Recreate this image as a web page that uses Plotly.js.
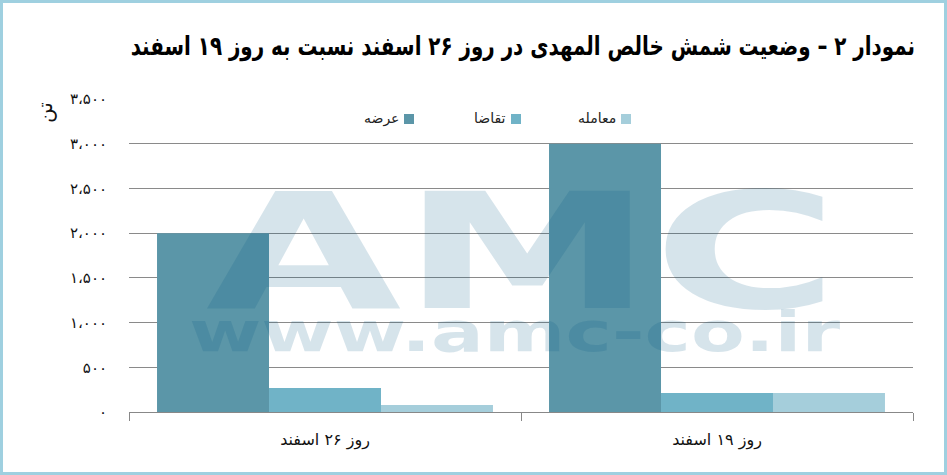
<!DOCTYPE html>
<html>
<head>
<meta charset="utf-8">
<script src="https://cdn.plot.ly/plotly-3.0.1.min.js"></script>
<style>
html,body{margin:0;padding:0;background:#fff;}
#wrap{position:relative;width:947px;height:475px;}
#chart{width:947px;height:475px;}
#frame{position:absolute;left:0;top:0;width:947px;height:475px;box-sizing:border-box;border:3px solid #9fd0e0;pointer-events:none;}
</style>
</head>
<body>
<div id="wrap"><div id="chart"></div><div id="frame"></div></div>
<script>
// ---- data ----
const categories = ['روز ۲۶ اسفند', 'روز ۱۹ اسفند'];
const seriesNames = ['عرضه', 'تقاضا', 'معامله'];
const supplyValues = [2000, 3000];
const demandValues = [268, 212];
const tradeValues = [78, 212];
const yTickVals = [0, 500, 1000, 1500, 2000, 2500, 3000, 3500];
const yTickText = ['۰', '۵۰۰', '۱،۰۰۰', '۱،۵۰۰', '۲،۰۰۰', '۲،۵۰۰', '۳،۰۰۰', '۳،۵۰۰'];
const titleText = 'نمودار ۲ – وضعیت شمش خالص المهدی در روز ۲۶ اسفند نسبت به روز ۱۹ اسفند';
const unitText = 'تن';

// ---- styles ----
const colors = ['#5b96a8', '#70b3c7', '#a5cedb'];
const W = 947, H = 475;
const M = {l: 129, r: 34, t: 99, b: 63};
const pw = W - M.l - M.r, ph = H - M.t - M.b;
const px = x => (x - M.l) / pw;
const py = y => (H - M.b - y) / ph;
const FONT = 'DejaVu Sans, sans-serif';

const seriesValues = [supplyValues, demandValues, tradeValues];
const traces = seriesNames.map((n, i) => ({
  type: 'bar', name: n, x: categories, y: seriesValues[i],
  marker: {color: colors[i], line: {width: 0}},
  hoverinfo: 'skip', showlegend: false
}));

// custom RTL legend (text then square on the right)
const legendItems = [
  {name: seriesNames[0], textRight: 401, sq: 404},
  {name: seriesNames[1], textRight: 508, sq: 511},
  {name: seriesNames[2], textRight: 618, sq: 621}
];
const annotations = [];
const shapes = [];
legendItems.forEach((it, i) => {
  annotations.push({xref: 'paper', yref: 'paper', x: px(it.textRight), y: py(118),
    xanchor: 'right', yanchor: 'middle', showarrow: false, text: it.name,
    font: {family: FONT, size: 14, color: '#222'}});
  shapes.push({type: 'rect', xref: 'paper', yref: 'paper', x0: px(it.sq), x1: px(it.sq + 10),
    y0: py(124), y1: py(114), fillcolor: colors[i], line: {width: 0}});
});
// unit label
annotations.push({xref: 'paper', yref: 'paper', x: px(45), y: py(113), xanchor: 'center', yanchor: 'middle',
  showarrow: false, text: unitText, textangle: -90, font: {family: FONT, size: 20, color: '#111'}});
// watermark
annotations.push({xref: 'paper', yref: 'paper', x: px(522), y: py(253), xanchor: 'center', yanchor: 'middle',
  showarrow: false, text: '<b>AMC</b>', font: {family: FONT, size: 160, color: 'rgba(0,86,130,0.16)'}});
annotations.push({xref: 'paper', yref: 'paper', x: px(515), y: py(331), xanchor: 'center', yanchor: 'middle',
  showarrow: false, text: '<b>www.amc-co.ir</b>', font: {family: FONT, size: 56, color: 'rgba(0,86,130,0.16)'}});

const layout = {
  width: W, height: H,
  margin: M,
  paper_bgcolor: '#fff', plot_bgcolor: 'rgba(0,0,0,0)',
  title: {text: '<b>' + titleText + '</b>', xref: 'container', yref: 'container',
    x: 915 / W, xanchor: 'right', y: 1 - 46 / H, yanchor: 'middle',
    font: {family: FONT, size: 26, color: '#000'}},
  barmode: 'group', bargap: 0.143, bargroupgap: 0,
  xaxis: {type: 'category', showline: true, linecolor: '#888', linewidth: 1,
    ticks: 'outside', tickson: 'boundaries', ticklen: 8, tickcolor: '#888',
    showgrid: false, tickfont: {family: FONT, size: 16, color: '#111'}, ticklabelstandoff: 13},
  yaxis: {range: [0, 3500], tickvals: yTickVals, ticktext: yTickText, showgrid: true,
    gridcolor: '#8a8a8a', gridwidth: 1, zeroline: false, showline: false, ticks: '',
    tickfont: {family: FONT, size: 15, color: '#111'}, ticklabelstandoff: 21},
  annotations: annotations, shapes: shapes,
  showlegend: false
};

function scaleX(el, sx, anchor) {
  const b = el.getBBox();
  const cx = anchor === 'right' ? b.x + b.width : b.x + b.width / 2;
  el.setAttribute('transform', 'translate(' + cx + ',0) scale(' + sx + ',1) translate(' + (-cx) + ',0)');
}

Plotly.newPlot('chart', traces, layout, {staticPlot: true}).then(gd => {
  const stretch = {'AMC': 1.58, 'www.amc-co.ir': 1.4};
  gd.querySelectorAll('.annotation-text').forEach(t => {
    const s = t.textContent;
    if (stretch[s]) scaleX(t, stretch[s], 'center');
  });
  const tt = gd.querySelector('.gtitle');
  if (tt) {
    const b = tt.getBBox();
    if (b.width > 0) scaleX(tt, 785 / b.width, 'right');
  }
});
</script>
</body>
</html>
